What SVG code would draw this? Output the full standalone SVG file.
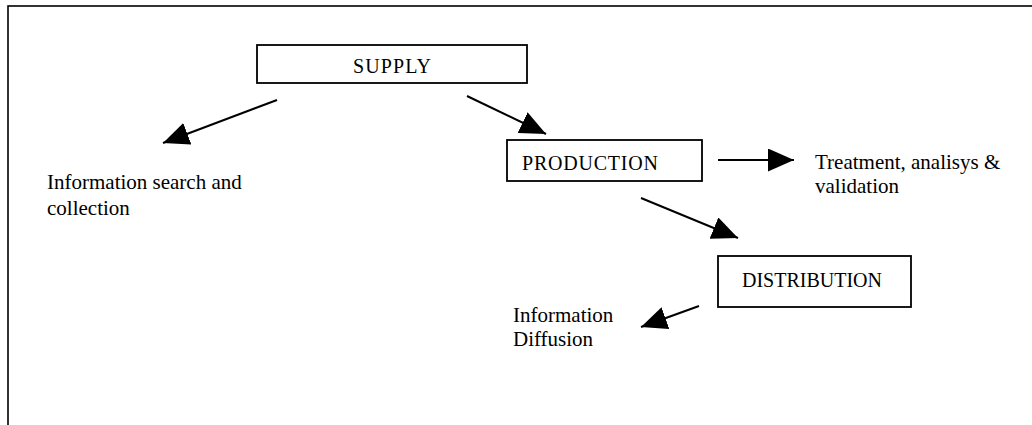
<svg xmlns="http://www.w3.org/2000/svg" width="1032" height="425" viewBox="0 0 1032 425">
  <style>
    .frame { fill: none; stroke: #000; stroke-width: 1.6; }
    .box { fill: #fff; stroke: #000; stroke-width: 1.8; }
    .boxtext { font-family: "Liberation Serif", "Times New Roman", serif; font-size: 20px; fill: #000; }
    .label { font-family: "Liberation Serif", "Times New Roman", serif; font-size: 21px; fill: #000; }
    .arrow { stroke: #000; stroke-width: 2; fill: none; marker-end: url(#head); }
  </style>
  <defs>
    <marker id="head" markerUnits="userSpaceOnUse" markerWidth="27" markerHeight="23" refX="26" refY="11.5" orient="auto">
      <path d="M0,0 L26,11.5 L0,23 z" fill="#000"/>
    </marker>
  </defs>

  <rect width="1032" height="425" fill="#fff"/>
  <!-- page frame, open to the right and bottom -->
  <rect class="frame" x="8" y="6" width="1040" height="440"/>

  <g id="supply">
    <rect class="box" x="257" y="45" width="270" height="38"/>
    <text class="boxtext" x="353" y="73" textLength="78" lengthAdjust="spacing">SUPPLY</text>
  </g>

  <g id="production">
    <rect class="box" x="507" y="140" width="195" height="41"/>
    <text class="boxtext" x="522" y="170" textLength="136" lengthAdjust="spacing">PRODUCTION</text>
  </g>

  <g id="distribution">
    <rect class="box" x="718" y="256" width="193" height="51"/>
    <text class="boxtext" x="812" y="287" text-anchor="middle">DISTRIBUTION</text>
  </g>

  <g id="search">
    <text class="label" x="47" y="189">Information search and</text>
    <text class="label" x="47" y="215">collection</text>
  </g>

  <g id="treatment">
    <text class="label" x="815" y="169">Treatment, analisys &amp;</text>
    <text class="label" x="815" y="193">validation</text>
  </g>

  <g id="diffusion">
    <text class="label" x="513" y="322" font-size="20">Information</text>
    <text class="label" x="513" y="346" font-size="20">Diffusion</text>
  </g>

  <g id="connectors">
    <line class="arrow" x1="277" y1="100" x2="163" y2="143"/>
    <line class="arrow" x1="467" y1="96" x2="546" y2="134"/>
    <line class="arrow" x1="718" y1="160" x2="794" y2="160"/>
    <line class="arrow" x1="641" y1="198" x2="738" y2="238"/>
    <line class="arrow" x1="699" y1="306" x2="641" y2="327"/>
  </g>
</svg>
